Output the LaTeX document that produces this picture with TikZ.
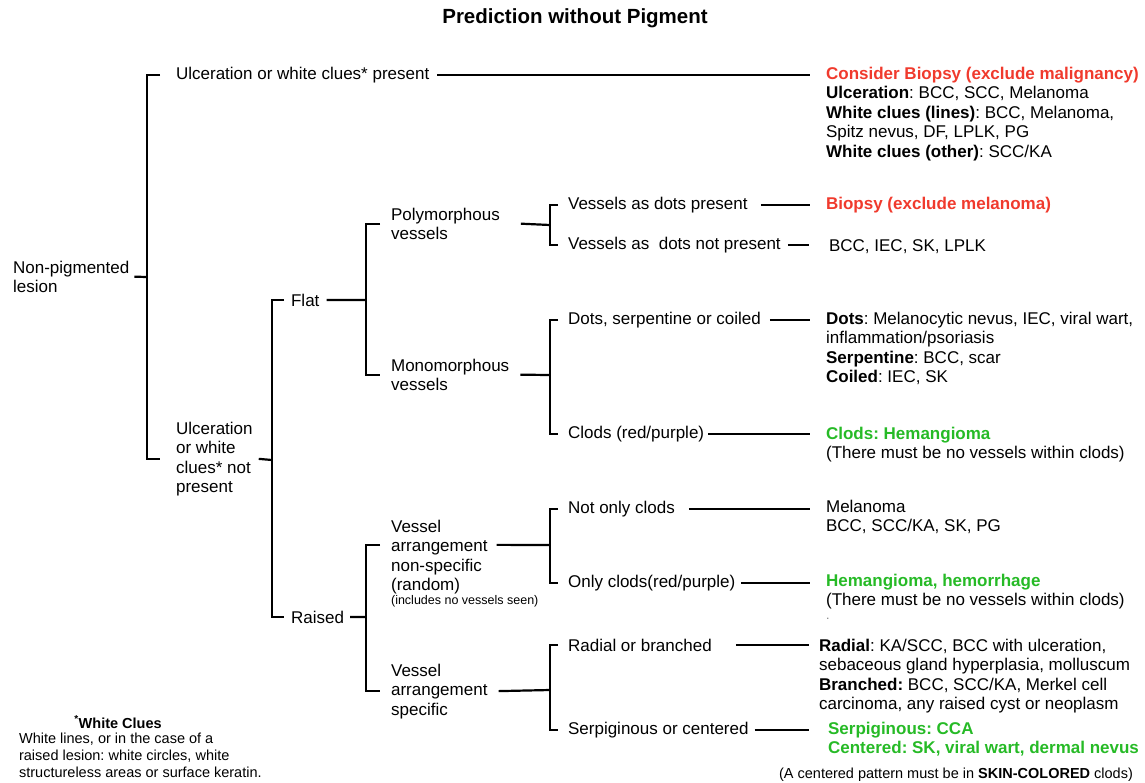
\documentclass[tikz,border=0pt]{standalone}
\usepackage{fontspec}
\setmainfont{Liberation Sans}
\frenchspacing
\definecolor{alarm}{RGB}{240,58,45}
\definecolor{benign}{RGB}{38,186,38}
\begin{document}
\begin{tikzpicture}[x=1pt,y=-1pt,line width=2.2pt,
    every node/.style={inner sep=0pt,align=left,anchor=base west,font=\fontsize{17}{19.5}\selectfont},
    bad/.style={text=alarm,font=\fontsize{17}{19.5}\selectfont\bfseries},
    good/.style={text=benign,font=\fontsize{17}{19.5}\selectfont\bfseries},
    small/.style={font=\fontsize{12.5}{14}\selectfont},
    note/.style={font=\fontsize{14.5}{17}\selectfont}]
\useasboundingbox (0,0) rectangle (1145,782);
\node[anchor=center,font=\fontsize{20.5}{24}\selectfont\bfseries](title)at(575,18){Prediction without Pigment};
% decision tree (multi-line nodes sit on their last baseline)
\node(root)at(12,292.5){Non-pigmented\\lesion};
\node(clue)at(175,79){Ulceration or white clues* present};
\node(noclue)at(175,492.5){Ulceration\\or white\\clues* not\\present};
\node(flat)at(290,306){Flat};\node(raised)at(290,623){Raised};
\node(poly)at(390,239.5){Polymorphous\\vessels};
\node(mono)at(390,390.5){Monomorphous\\vessels};
\node(nonspec)at(390,590.5){Vessel\\arrangement\\non-specific\\(random)};
\node[small](incl)at(390,604){(includes no vessels seen)};
\node(spec)at(390,715){Vessel\\arrangement\\specific};
\node(dotsyes)at(567,209){Vessels as dots present};
\node(dotsno)at(567,249){Vessels as\ \ dots not present};
\node(dsc)at(567,324){Dots, serpentine or coiled};
\node(clods)at(567,438){Clods (red/purple)};
\node(notonly)at(567,513){Not only clods};
\node(onlyclods)at(567,587){Only clods(red/purple)};
\node(radial)at(567,651){Radial or branched};
\node(serp)at(567,734){Serpiginous or centered};
% outcomes
\node(rmal)at(825,157){\textcolor{alarm}{\bfseries Consider Biopsy (exclude malignancy)}\\\textbf{Ulceration}: BCC, SCC, Melanoma\\\textbf{White clues (lines)}: BCC, Melanoma,\\Spitz nevus, DF, LPLK, PG\\\textbf{White clues (other)}: SCC/KA};
\node[bad](rmel)at(825,209){Biopsy (exclude melanoma)};
\node(rlplk)at(828,251){BCC, IEC, SK, LPLK};
\node(rdsc)at(825,382.5){\textbf{Dots}: Melanocytic nevus, IEC, viral wart,\\inflammation/psoriasis\\\textbf{Serpentine}: BCC, scar\\\textbf{Coiled}: IEC, SK};
\node(rclods)at(825,458.5){\textcolor{benign}{\bfseries Clods: Hemangioma}\\(There must be no vessels within clods)};
\node(rnotonly)at(825,531.5){Melanoma\\BCC, SCC/KA, SK, PG};
\node(ronly)at(825,605.5){\textcolor{benign}{\bfseries Hemangioma, hemorrhage}\\(There must be no vessels within clods)};
\node[small,text=gray](stray)at(825,619){.};
\node(rradial)at(818,709.5){\textbf{Radial}: KA/SCC, BCC with ulceration,\\sebaceous gland hyperplasia, molluscum\\\textbf{Branched:} BCC, SCC/KA, Merkel cell\\carcinoma, any raised cyst or neoplasm};
\node[good](rserp)at(827,753.5){Serpiginous: CCA\\Centered: SK, viral wart, dermal nevus};
\node[note](skin)at(778,778){(A centered pattern must be in \textbf{SKIN-COLORED} clods)};
\node[note,anchor=center,font=\fontsize{14.5}{17}\selectfont\bfseries](wchead)at(118,722){\textsuperscript{*}White Clues};
\node[note](wctext)at(18,777){White lines, or in the case of a\\raised lesion: white circles, white\\structureless areas or surface keratin.};
% brackets
\coordinate(s1)at(147,277);\coordinate(s2)at(272,460);
\coordinate(s3)at(366,300);\coordinate(s4)at(366,617);
\coordinate(s5)at(550,225);\coordinate(s6)at(550,375);
\coordinate(s7)at(550,545);\coordinate(s8)at(550,690);
\draw([xshift=4pt]root.east)--(s1);
\draw([xshift=-15pt]clue.west)-|(s1)|-([xshift=-15pt]noclue.west);
\draw([xshift=5pt]noclue.east)--(s2);
\draw([xshift=-6pt]flat.west)-|(s2)|-([xshift=-6pt]raised.west);
\draw([xshift=6pt]flat.east)--(s3);
\draw([xshift=-10pt]poly.west)-|(s3)|-([xshift=-10pt]mono.west);
\draw([xshift=5pt]raised.east)--(s4);
\draw([xshift=-10pt,yshift=12pt]nonspec.west)-|(s4)|-([xshift=-10pt]spec.west);
\draw([xshift=20pt]poly.east)--(s5);\draw([xshift=10pt]mono.east)--(s6);
\draw([xshift=8pt,yshift=12pt]nonspec.east)--(s7);\draw([xshift=10pt]spec.east)--(s8);
\foreach \a/\b/\s in {dotsyes/dotsno/s5,dsc/clods/s6,notonly/onlyclods/s7,radial/serp/s8}
    \draw([xshift=-9pt]\a.west)-|(\s)|-([xshift=-9pt]\b.west);
% lines to outcomes
\foreach \a/\r/\u/\v in {clue/rmal/7/15,dotsyes/rmel/12/15,dotsno/rlplk/6/19,dsc/rdsc/8/15,
    clods/rclods/3/15,notonly/rnotonly/13/15,onlyclods/ronly/5/15,radial/rradial/23/9,serp/rserp/5/18}
    \draw[shorten <=\u pt,shorten >=\v pt](\a.east)--(\a.east-|\r.west);
\end{tikzpicture}
\end{document}
